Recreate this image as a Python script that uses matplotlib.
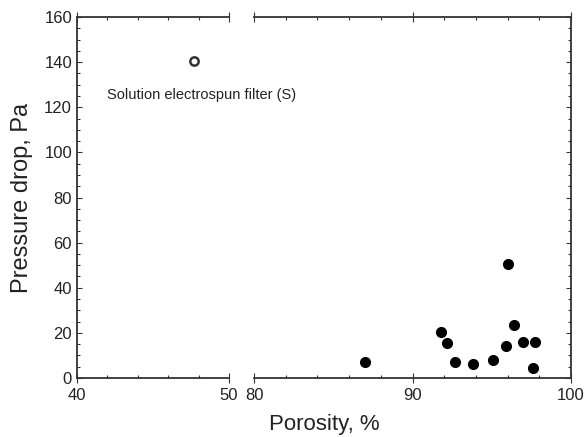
import matplotlib
matplotlib.use("Agg")
import matplotlib.pyplot as plt
from matplotlib.ticker import MultipleLocator

plt.rcParams['font.family'] = ['Liberation Sans', 'DejaVu Sans']

# melt / other filters (right panel)
porosity = [87.0, 91.8, 92.2, 92.7, 93.8, 95.1, 95.9, 96.0, 96.4, 97.0, 97.7, 97.6]
pressure = [7.2, 20.2, 15.5, 7.2, 6.3, 8.1, 14.3, 50.4, 23.5, 16.1, 16.1, 4.3]

# solution electrospun filter (left panel)
sol_porosity = [47.7]
sol_pressure = [140.6]
sol_label = "Solution electrospun filter (S)"

spine_col = '#333333'

fig = plt.figure(figsize=(5.85, 4.37), dpi=100)
ax1 = fig.add_axes([0.1316, 0.135, 0.2598, 0.826])
ax2 = fig.add_axes([0.4342, 0.135, 0.5419, 0.826], sharey=ax1)
ax2.set_facecolor('none')

for ax in (ax1, ax2):
    for s in ax.spines.values():
        s.set_color(spine_col)
        s.set_linewidth(1.3)
    ax.tick_params(which='both', direction='in', colors=spine_col, labelcolor='#222222',
                   labelsize=12, top=True)
    ax.tick_params(axis='x', which='major', direction='inout', length=7)
    ax.tick_params(which='minor', length=2.5, width=0.8)
    ax.xaxis.set_minor_locator(MultipleLocator(2))
    ax.yaxis.set_major_locator(MultipleLocator(20))
    ax.yaxis.set_minor_locator(MultipleLocator(5))

ax1.spines['right'].set_visible(False)
ax2.spines['left'].set_visible(False)
ax1.tick_params(right=False, which='both')
ax2.tick_params(left=False, labelleft=False, right=True, which='both')

ax1.set_xlim(40, 50)
ax1.set_xticks([40, 50])
ax2.set_xlim(80, 100)
ax2.set_xticks([80, 90, 100])
ax1.set_ylim(0, 160)

ax1.plot(sol_porosity, sol_pressure, 'o', ms=6, mfc='white', mec='#333333', mew=1.8)
ax1.text(42.0, 125.4, sol_label, fontsize=10.5, va='center', ha='left',
         color='#222222', clip_on=False)

ax2.plot(porosity, pressure, 'o', ms=7, color='black', clip_on=False)

ax1.set_ylabel('Pressure drop, Pa', fontsize=17, color='#222222', labelpad=8)
fig.text(0.555, 0.028, 'Porosity, %', fontsize=16, color='#222222', ha='center', va='center')

fig.savefig('out.png', dpi=100)
